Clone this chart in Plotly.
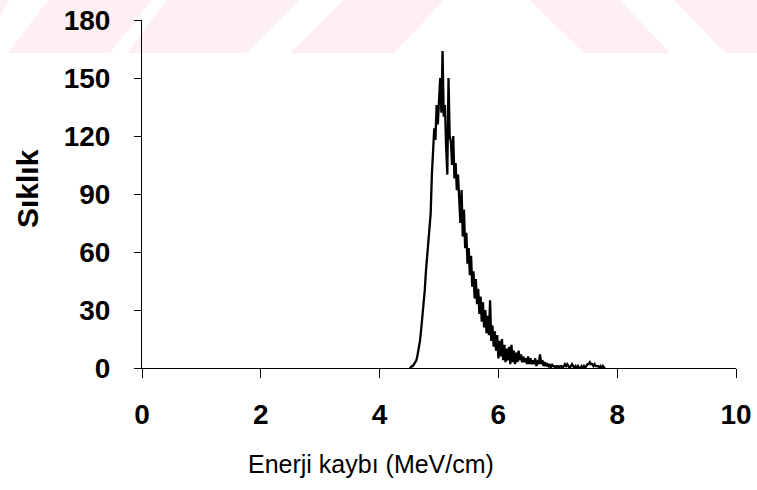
import plotly.graph_objects as go

# Histogram of energy loss: bin start, bin width and counts
bin_start = 4.50
bin_width = 0.02
counts = [
    0, 0, 1, 1, 2, 3, 4, 7, 10, 14,            # 4.50 - 4.68
    20, 26, 33, 40, 50, 58, 67, 74, 80, 100,   # 4.70 - 4.88
    112, 124, 118, 136, 126, 142, 150, 132, 164, 130,  # 4.90 - 5.08
    136, 114, 100, 150, 120, 117, 105, 120, 98, 106,   # 5.10 - 5.28
    92, 100, 84, 75, 92, 68, 82, 62, 70, 54,   # 5.30 - 5.48
    62, 48, 58, 42, 50, 36, 46, 33, 41, 28,    # 5.50 - 5.68
    37, 24, 34, 21, 30, 18, 27, 17, 35, 14,    # 5.70 - 5.88
    22, 11, 19, 9, 17, 5, 14, 6, 15, 4,        # 5.90 - 6.08
    12, 3, 10, 4, 11, 2, 12, 3, 9, 2,          # 6.10 - 6.28
    8, 3, 9, 4, 7, 3, 6, 3, 5, 2,              # 6.30 - 6.48
    6, 2, 5, 2, 4, 2, 5, 1, 4, 2,              # 6.50 - 6.68
    7, 2, 4, 1, 3, 1, 2, 1, 2, 0,              # 6.70 - 6.88
    2, 1, 1, 0, 1, 1, 0, 1, 1, 0,              # 6.90 - 7.08
    1, 2, 1, 2, 1, 0, 1, 2, 1, 0,              # 7.10 - 7.28
    1, 0, 1, 0, 0, 1, 0, 1, 0, 1,              # 7.30 - 7.48
    2, 2, 3, 2, 2, 1, 2, 1, 1, 1,              # 7.50 - 7.68
    0, 1, 0, 1, 0, 0,                          # 7.70 - 7.80
]
energy = [round(bin_start + i * bin_width, 2) for i in range(len(counts))]

x_ticks = [0, 2, 4, 6, 8, 10]
y_ticks = [0, 30, 60, 90, 120, 150, 180]
x_title = "Enerji kaybı (MeV/cm)"
y_title = "Sıklık"

W, H = 757, 490
ML, MR, MT, MB = 142, 21, 20, 122
PW, PH = W - ML - MR, H - MT - MB

def px(xp):
    return (xp - ML) / PW

def py(yp):
    return (H - MB - yp) / PH

# faint watermark band at the top (pixel polygons)
watermark = [
    [(0, 0), (10, 0), (0, 15)],
    [(8, 53), (110, 53), (152, 0), (48, 0)],
    [(127, 53), (247, 53), (300, 0), (167, 0)],
    [(290, 53), (394, 53), (444, 0), (343, 0)],
    [(530, 0), (620, 0), (670, 53), (584, 53)],
    [(674, 0), (757, 0), (757, 53), (725, 53)],
]
shapes = []
for poly in watermark:
    path = "M " + " L ".join(f"{px(a):.5f},{py(b):.5f}" for a, b in poly) + " Z"
    shapes.append(dict(type="path", path=path, xref="paper", yref="paper",
                       fillcolor="#fef0f2", line=dict(width=0), layer="below"))

fig = go.Figure()
fig.add_trace(go.Scatter(x=energy, y=counts, mode="lines",
                         line=dict(color="black", width=2.3), showlegend=False))

font_fam = "Liberation Sans, Arial, sans-serif"
fig.update_layout(
    width=W, height=H,
    margin=dict(l=ML, r=MR, t=MT, b=MB, pad=0),
    paper_bgcolor="white", plot_bgcolor="rgba(0,0,0,0)",
    shapes=shapes,
    xaxis=dict(range=[0, 10], tickvals=x_ticks, ticktext=[str(v) for v in x_ticks],
               showline=True, linecolor="black", linewidth=1, showgrid=False,
               zeroline=False, ticks="outside", ticklen=9, tickcolor="black",
               tickwidth=1, ticklabelstandoff=12, automargin=False,
               tickfont=dict(family=font_fam, size=28, color="black", weight="bold")),
    yaxis=dict(range=[0, 180], tickvals=y_ticks, ticktext=[str(v) for v in y_ticks],
               showline=True, linecolor="black", linewidth=1, showgrid=False,
               zeroline=False, ticks="outside", ticklen=7, tickcolor="black",
               tickwidth=1, ticklabelstandoff=18, automargin=False,
               tickfont=dict(family=font_fam, size=28, color="black", weight="bold")),
    annotations=[
        dict(text=x_title, xref="paper", yref="paper", x=px(371), y=py(464),
             xanchor="center", yanchor="middle", showarrow=False,
             font=dict(family=font_fam, size=25, color="black")),
        dict(text=y_title, xref="paper", yref="paper", x=px(27), y=py(189),
             xanchor="center", yanchor="middle", showarrow=False, textangle=-90,
             font=dict(family=font_fam, size=30, color="black", weight="bold")),
    ],
)

fig.write_html("out.html")
